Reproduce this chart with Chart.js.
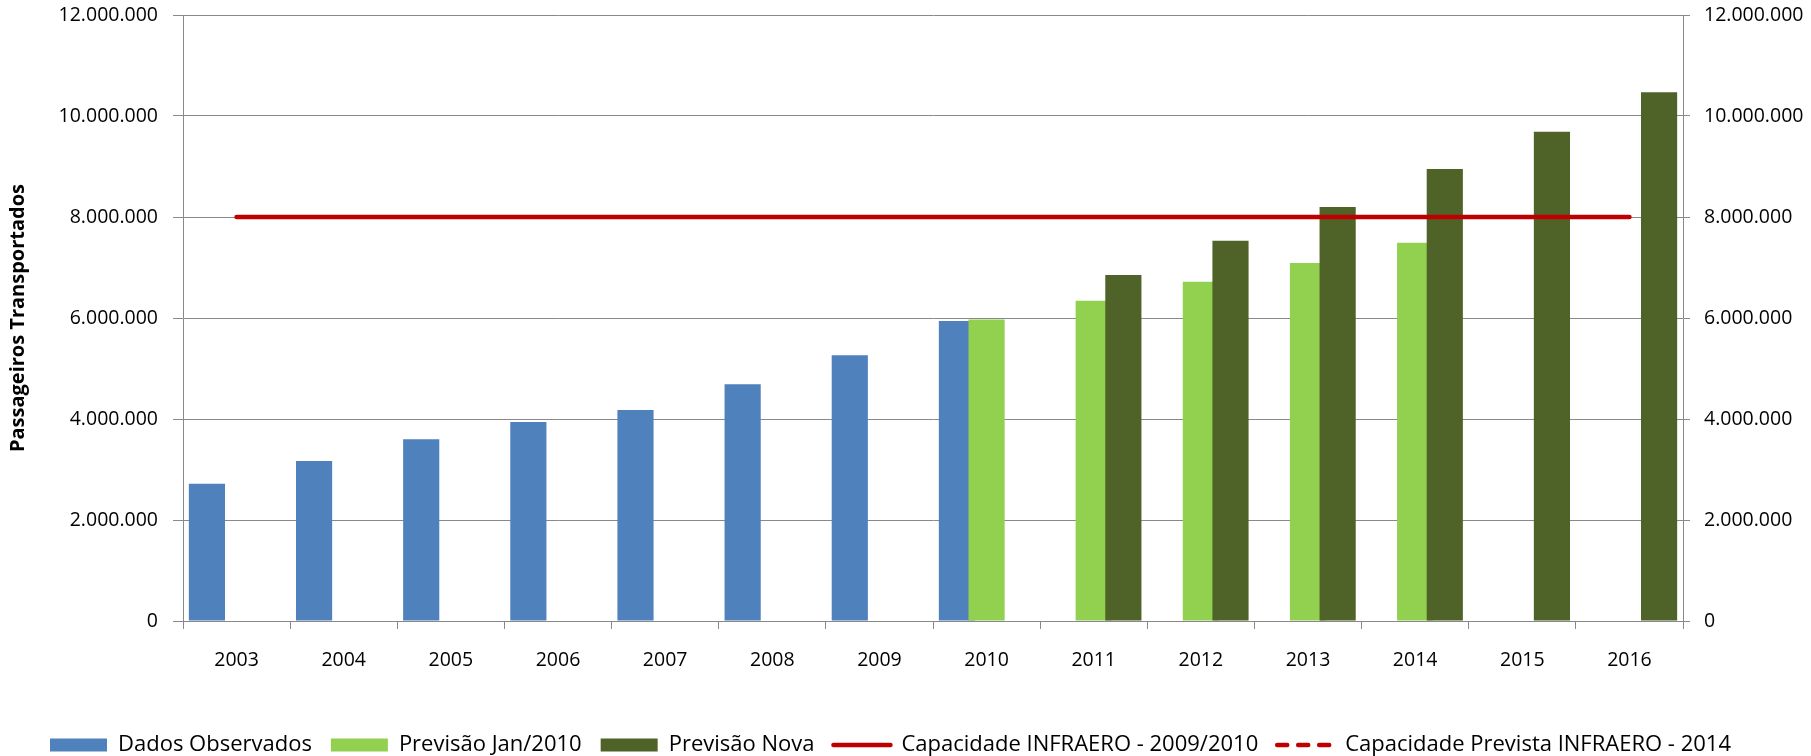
<!DOCTYPE html>
<html>
<head>
<meta charset="utf-8">
<script src="https://cdn.jsdelivr.net/npm/chart.js@4.4.1/dist/chart.umd.min.js"></script>
<style>
  html, body { margin: 0; padding: 0; background: #ffffff; }
  #wrap { width: 1811px; height: 756px; }
</style>
</head>
<body>
<div id="wrap"><canvas id="c" width="1811" height="756"></canvas></div>
<script>
const years = ['2003','2004','2005','2006','2007','2008','2009','2010','2011','2012','2013','2014','2015','2016'];
const dadosObservados = [2720000, 3170000, 3600000, 3940000, 4180000, 4690000, 5260000, 5940000, null, null, null, null, null, null];
const previsaoJan2010 = [null, null, null, null, null, null, null, 5970000, 6340000, 6720000, 7090000, 7490000, null, null];
const previsaoNova = [null, null, null, null, null, null, null, null, 6850000, 7530000, 8200000, 8950000, 9690000, 10470000];
const capacidade2009 = [8000000, 8000000, 8000000, 8000000, 8000000, 8000000, 8000000, 8000000, 8000000, 8000000, 8000000, 8000000, 8000000, 8000000];
const capacidadePrevista2014 = [8000000, 8000000, 8000000, 8000000, 8000000, 8000000, 8000000, 8000000, 8000000, 8000000, 8000000, 8000000, 8000000, 8000000];
const yTicks = [0, 2000000, 4000000, 6000000, 8000000, 10000000, 12000000];

function fmt(v) { return String(v).replace(/\B(?=(\d{3})+(?!\d))/g, '.'); }

const GRID = '#898989';
const FAMILY = "'Open Sans', 'DejaVu Sans', sans-serif";
const TICK_FONT = { family: FAMILY, size: 19.5 };
const LEGEND_START_X = 50;

// draw bars so that later series overlap earlier ones (Excel-like overlap), lines on top
const drawOrderPlugin = {
  id: 'drawOrder',
  beforeDatasetsDraw(chart) {
    if (typeof chart._drawDataset !== 'function') return;
    const metas = chart.getSortedVisibleDatasetMetas().slice().sort((a, b) =>
      chart.data.datasets[a.index].drawRank - chart.data.datasets[b.index].drawRank);
    for (const m of metas) chart._drawDataset(m);
    return false;
  }
};

// place the legend row where the reference has it
const legendShiftPlugin = {
  id: 'legendShift',
  afterLayout(chart) {
    const lg = chart.legend;
    if (!lg || !lg.lineWidths) return;
    const pad = lg.options.labels.padding;
    const start = (lg.left + pad + lg.right - lg.lineWidths[0]) / 2;
    const dx = LEGEND_START_X - start;
    lg.left += dx; lg.right += dx;
  }
};

const barCommon = { categoryPercentage: 0.83, barPercentage: 1.22, borderWidth: 0, pointStyle: 'rect' };

new Chart(document.getElementById('c'), {
  type: 'bar',
  data: {
    labels: years,
    datasets: [
      Object.assign({ label: 'Dados Observados', data: dadosObservados, backgroundColor: '#4F81BD', drawRank: 1 }, barCommon),
      Object.assign({ label: 'Previsão Jan/2010', data: previsaoJan2010, backgroundColor: '#92D050', drawRank: 2 }, barCommon),
      Object.assign({ label: 'Previsão Nova', data: previsaoNova, backgroundColor: '#4F6228', drawRank: 3 }, barCommon),
      { type: 'line', label: 'Capacidade INFRAERO - 2009/2010', data: capacidade2009,
        borderColor: '#C00000', backgroundColor: '#C00000', borderWidth: 4.5, borderCapStyle: 'round',
        pointRadius: 0, pointHoverRadius: 0, pointStyle: 'line', tension: 0, drawRank: 5, legendLineWidth: 4.5 },
      { type: 'line', label: 'Capacidade Prevista INFRAERO - 2014', data: capacidadePrevista2014,
        borderColor: '#C00000', backgroundColor: '#C00000', borderWidth: 3, borderDash: [10, 11], borderCapStyle: 'round',
        pointRadius: 0, pointHoverRadius: 0, pointStyle: 'line', tension: 0, drawRank: 4, legendLineWidth: 4.5 }
    ]
  },
  options: {
    responsive: false,
    animation: false,
    events: [],
    layout: { padding: { left: 0, right: 0, top: 15, bottom: -10 } },
    plugins: {
      tooltip: { enabled: false },
      legend: {
        position: 'bottom',
        labels: {
          usePointStyle: true,
          pointStyleWidth: 57,
          boxHeight: 13,
          padding: 19,
          color: '#000000',
          font: { family: FAMILY, size: 22 },
          generateLabels(chart) {
            const items = Chart.defaults.plugins.legend.labels.generateLabels(chart);
            items.forEach(it => {
              const ds = chart.data.datasets[it.datasetIndex];
              if (ds.type === 'line') {
                it.lineDash = ds.borderDash || [];
                it.lineWidth = ds.legendLineWidth || ds.borderWidth;
                it.lineCap = ds.borderCapStyle || 'butt';
                it.strokeStyle = ds.borderColor;
              }
            });
            return items;
          }
        }
      }
    },
    scales: {
      x: {
        type: 'category',
        offset: true,
        grid: { display: true, drawOnChartArea: false, drawTicks: true, tickLength: 8, offset: true, color: GRID },
        border: { display: true, color: GRID, width: 1 },
        ticks: { color: '#000000', font: TICK_FONT, padding: 20, maxRotation: 0, autoSkip: false },
        afterFit(s) { s.height = 94; }
      },
      y: {
        position: 'left',
        min: 0, max: 12000000,
        afterBuildTicks(s) { s.ticks = yTicks.map(v => ({ value: v })); },
        grid: { color: GRID, lineWidth: 1, drawTicks: true, tickLength: 10 },
        border: { display: true, color: GRID, width: 1 },
        ticks: { color: '#000000', font: TICK_FONT, padding: 15, callback: v => fmt(v) },
        title: { display: true, text: 'Passageiros Transportados', color: '#000000',
          font: { family: FAMILY, size: 20, weight: 'bold' },
          padding: { top: 6, bottom: 0 } },
        afterFit(s) { s.width = 183; s.paddingTop = 0; s.paddingBottom = 0; }
      },
      y2: {
        position: 'right',
        min: 0, max: 12000000,
        afterBuildTicks(s) { s.ticks = yTicks.map(v => ({ value: v })); },
        grid: { drawOnChartArea: false, drawTicks: true, tickLength: 7, color: GRID },
        border: { display: true, color: GRID, width: 1 },
        ticks: { color: '#000000', font: TICK_FONT, padding: 14, callback: v => fmt(v) },
        afterFit(s) { s.width = 128; s.paddingTop = 0; s.paddingBottom = 0; }
      }
    }
  },
  plugins: [drawOrderPlugin, legendShiftPlugin]
});
</script>
</body>
</html>
